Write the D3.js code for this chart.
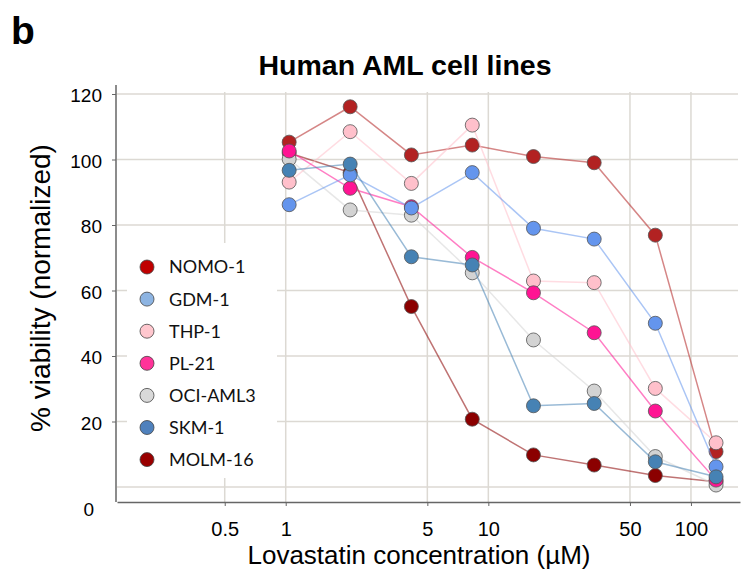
<!DOCTYPE html>
<html>
<head>
<meta charset="utf-8">
<script src="https://cdn.jsdelivr.net/npm/d3@7"></script>
<style>
  body { margin: 0; background: #fff; }
  svg { display: block; }
</style>
</head>
<body>
<svg></svg>
<script>
const width = 752;
const height = 581;

const concentrations = [1.04, 2.08, 4.17, 8.33, 16.7, 33.3, 66.7, 133];
const lineNames = ['NOMO-1', 'GDM-1', 'THP-1', 'PL-21', 'OCI-AML3', 'SKM-1', 'MOLM-16'];
const nomo1 = [105.3, 116.1, 101.4, 104.4, 100.9, 99.0, 76.9, 10.8];
const gdm1 = [86.2, 95.3, 85.2, 96.0, 79.0, 75.7, 50.0, 6.2];
const thp1 = [93.1, 108.5, 92.7, 110.5, 62.9, 62.4, 30.1, 13.5];
const pl21 = [102.6, 91.2, 85.6, 70.1, 59.3, 47.1, 23.2, 2.1];
const ociAml3 = [100.1, 84.6, 83.0, 65.4, 44.9, 29.3, 9.3, 0.6];
const skm1 = [96.7, 98.6, 70.3, 67.8, 24.8, 25.5, 7.7, 3.1];
const molm16 = [102.0, 96.0, 55.1, 20.7, 9.8, 6.7, 3.5, 1.6];
const xTicks = [0.5, 1, 5, 10, 50, 100];
const yTicks = [0, 20, 40, 60, 80, 100, 120];

// point colours, legend swatch colours
const pointColors = ['#b22222', '#6495ed', '#ffc0cb', '#ff1493', '#d3d3d3', '#4682b4', '#8b0000'];
const legendColors = ['#c00000', '#8db4e2', '#ffc7ce', '#ff3399', '#d9d9d9', '#4f81bd', '#990000'];
const seriesValues = [nomo1, gdm1, thp1, pl21, ociAml3, skm1, molm16];
// which series sits on top
const drawOrder = ['MOLM-16', 'NOMO-1', 'OCI-AML3', 'THP-1', 'PL-21', 'GDM-1', 'SKM-1'];

const series = lineNames.map((name, i) => ({
    name,
    color: pointColors[i],
    legendColor: legendColors[i],
    points: concentrations.map((c, j) => ({ c, v: seriesValues[i][j] }))
}));

const plot = { left: 117, right: 740, top: 85, bottom: 502 };

const x = d3.scaleLog()
    .domain([0.147, 174.6])
    .range([plot.left, plot.right]);

const y = d3.scaleLinear()
    .domain([0, 120])
    .range([487, 94]);

const svg = d3.select('svg')
    .attr('width', width)
    .attr('height', height)
    .style('font-family', '"Liberation Sans", Arial, sans-serif');

const gridColor = '#dcd9d3';

// grid
svg.append('g')
    .selectAll('line')
    .data(yTicks)
    .join('line')
        .attr('x1', plot.left)
        .attr('x2', plot.right - 2)
        .attr('y1', d => y(d))
        .attr('y2', d => y(d))
        .attr('stroke', gridColor)
        .attr('stroke-width', 1.5);

svg.append('g')
    .selectAll('line')
    .data(xTicks)
    .join('line')
        .attr('x1', d => x(d))
        .attr('x2', d => x(d))
        .attr('y1', 92)
        .attr('y2', plot.bottom)
        .attr('stroke', gridColor)
        .attr('stroke-width', 1.5);

// legend backdrop hides grid behind it
svg.append('rect')
    .attr('x', 127)
    .attr('y', 243)
    .attr('width', 150)
    .attr('height', 235)
    .attr('fill', '#fff');

// axes
const xAxis = svg.append('g')
    .attr('transform', `translate(0, ${plot.bottom})`)
    .call(d3.axisBottom(x)
        .tickValues(xTicks)
        .tickFormat(d => String(d))
        .tickSize(4)
        .tickSizeOuter(0));
xAxis.select('.domain').attr('stroke', '#666').attr('stroke-width', 1.5);
xAxis.selectAll('.tick line').attr('stroke', '#666');
xAxis.selectAll('.tick text')
    .attr('dy', '1.33em')
    .style('font-size', '20px')
    .attr('fill', '#000');

const yAxis = svg.append('g')
    .attr('transform', `translate(${plot.left - 1}, 0)`)
    .call(d3.axisLeft(y)
        .tickValues(yTicks)
        .tickSize(4)
        .tickPadding(10)
        .tickSizeOuter(0));
yAxis.select('.domain')
    .attr('d', `M0,${plot.top}V${plot.bottom}`)
    .attr('stroke', '#666')
    .attr('stroke-width', 1.5);
yAxis.selectAll('.tick line').attr('stroke', '#666');
yAxis.selectAll('.tick text')
    .style('font-size', '19px')
    .attr('fill', '#000')
    .attr('dy', '0.42em');
// the zero label sits below the axis line in the original
yAxis.selectAll('.tick')
    .filter(d => d === 0)
    .select('text')
    .attr('y', 21)
    .attr('x', -22);
yAxis.selectAll('.tick').filter(d => d === 0).select('line').remove();

// lines and points
const line = d3.line()
    .x(d => x(d.c))
    .y(d => y(d.v));

const ordered = drawOrder.map(n => series.find(s => s.name === n));

const groups = svg.append('g')
    .selectAll('g')
    .data(ordered)
    .join('g');

groups.append('path')
    .attr('d', d => line(d.points))
    .attr('fill', 'none')
    .attr('stroke', d => d.color)
    .attr('stroke-opacity', 0.55)
    .attr('stroke-width', 1.5);

groups.selectAll('circle')
    .data(d => d.points.map(p => ({ ...p, color: d.color })))
    .join('circle')
        .attr('cx', d => x(d.c))
        .attr('cy', d => y(d.v))
        .attr('r', 7)
        .attr('fill', d => d.color)
        .attr('stroke', '#555')
        .attr('stroke-opacity', 0.8)
        .attr('stroke-width', 1);

// legend
const legend = svg.append('g')
    .attr('transform', 'translate(147, 267)');

const items = legend.selectAll('g')
    .data(series)
    .join('g')
        .attr('transform', (_, i) => `translate(0, ${i * 32.1})`);

items.append('circle')
    .attr('r', 7)
    .attr('fill', d => d.legendColor)
    .attr('stroke', '#444')
    .attr('stroke-width', 0.8);

items.append('text')
    .attr('x', 22)
    .attr('dy', '0.36em')
    .style('font-family', 'Lato, "Open Sans", sans-serif')
    .style('font-size', '18px')
    .attr('fill', '#111')
    .text(d => d.name);

// titles
svg.append('text')
    .attr('x', 405)
    .attr('y', 75)
    .attr('text-anchor', 'middle')
    .style('font-size', '28.5px')
    .style('font-weight', 'bold')
    .text('Human AML cell lines');

svg.append('text')
    .attr('x', 11)
    .attr('y', 44)
    .style('font-size', '39px')
    .style('font-weight', 'bold')
    .text('b');

svg.append('text')
    .attr('transform', 'translate(50, 288) rotate(-90)')
    .attr('text-anchor', 'middle')
    .style('font-size', '28px')
    .text('% viability (normalized)');

svg.append('text')
    .attr('x', 419)
    .attr('y', 564)
    .attr('text-anchor', 'middle')
    .style('font-size', '26px')
    .text('Lovastatin concentration (\u00b5M)');
</script>
</body>
</html>
